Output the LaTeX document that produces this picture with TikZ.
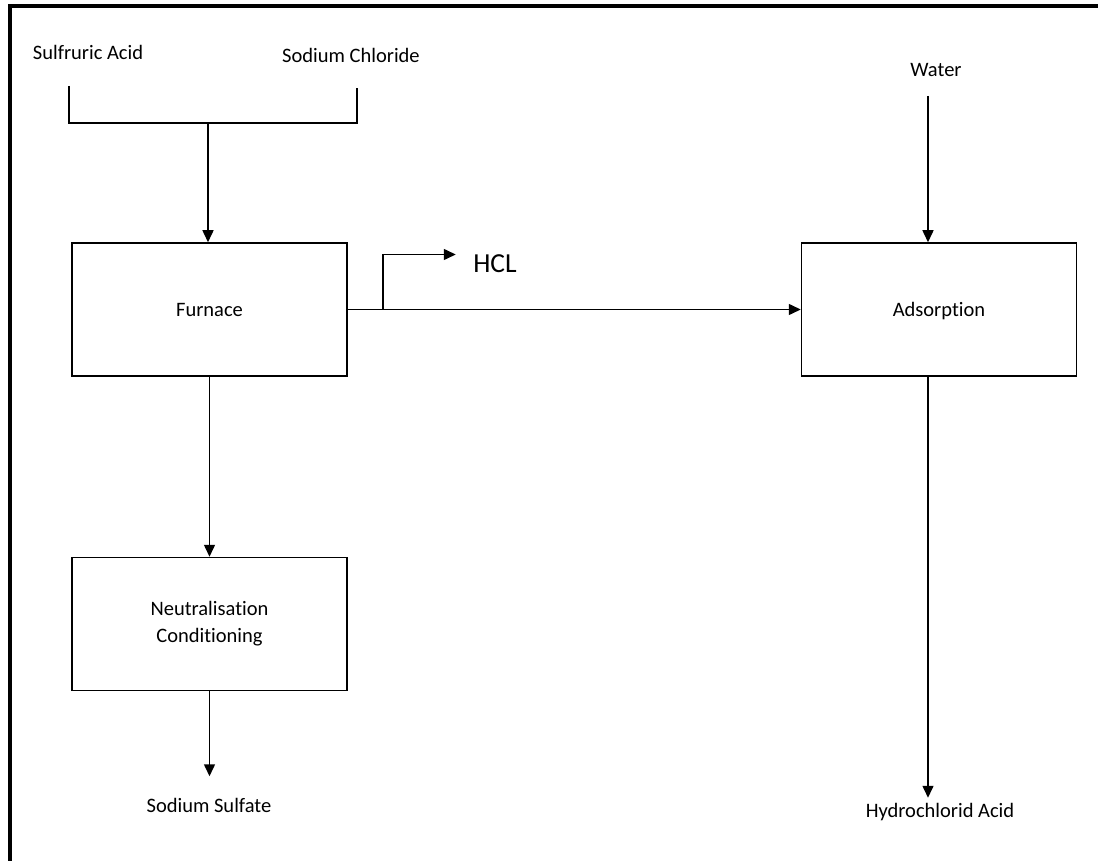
\documentclass[tikz,border=0pt]{standalone}
\usepackage{fontspec}
\setmainfont{Carlito}[Ligatures=NoCommon]
\usetikzlibrary{arrows.meta}
\tikzset{
  unit/.style={draw, line width=1.5pt, minimum width=275pt, minimum height=133pt,
               align=center, font=\fontsize{20.5}{27}\selectfont},
  stream/.style={font=\fontsize{20.5}{27}\selectfont},
  flow/.style={line width=1.5pt, -{Triangle[length=12pt,width=11pt]}}
}
\begin{document}
\begin{tikzpicture}[x=1pt, y=-1pt]
\useasboundingbox (0,0) rectangle (1098,861);
\draw [line width=4pt] (9.5,861) -- (9.5,6) -- (1098,6);
\node [unit] (furnace) at (209.5,309.5) {Furnace};
\node [unit] (neutral) at (209.5,624) {Neutralisation\\Conditioning};
\node [unit, text depth=0pt] (adsorption) at (939,309.5) {Adsorption};
\node [stream] (acid) at (88,52) {Sulfruric Acid};
\node [stream] (chloride) at (351,55) {Sodium Chloride};
\node [stream] (water) at (936,70) {Water};
\node [stream] (sulfate) at (209,805) {Sodium Sulfate};
\node [stream] (product) at (940,812) {Hydrochlorid Acid};
\node [font=\fontsize{27.5}{30}\selectfont] (hcl) at (495,264) {HCL};
\coordinate (acid end) at (69,86);
\coordinate (chloride end) at (357,88);
\coordinate (mix) at (208,123);
\draw [line width=1.5pt] (acid end) -- (acid end |- mix) -- (chloride end |- mix) -- (chloride end);
\draw [flow] (mix) -- (mix |- furnace.north);
\draw [flow] (furnace.east) -- (adsorption.west);
\draw [flow] (furnace.east) ++(35,0) coordinate (split)
            -- ++(0,-55) -- ++(73,0);
\draw [flow] (furnace.south) -- (neutral.north);
\draw [flow] (neutral.south) -- ++(0,85);
\coordinate (water end) at (928,96);
\draw [flow] (water end) -- (water end |- adsorption.north);
\draw [flow] (water end |- adsorption.south) -- ++(0,421);
\end{tikzpicture}
\end{document}
